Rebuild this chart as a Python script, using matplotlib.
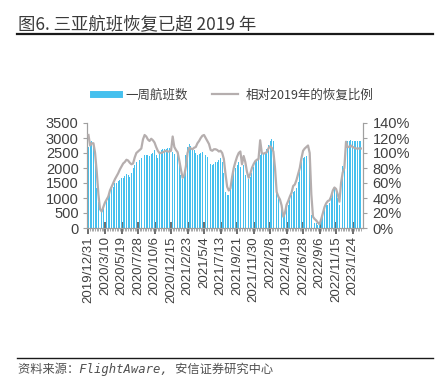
import matplotlib
matplotlib.use("Agg")
import matplotlib.pyplot as plt
from matplotlib.lines import Line2D
import numpy as np

# ---------------- data ----------------
flights = [
    2700, 2880, 2900, 2800, 2100, 1350, 880, 600, 580, 770,
    860, 990, 1100, 1210, 1300, 1380, 1490, 1490, 1570, 1600,
    1660, 1680, 1730, 1790, 1770, 1710, 1820, 1990, 2100, 2210,
    2240, 2270, 2320, 2380, 2430, 2430, 2430, 2410, 2460, 2490,
    2600, 2430, 2340, 2540, 2600, 2620, 2650, 2650, 2680, 2680,
    2650, 2540, 2480, 2450, 2450, 2100, 1770, 1650, 1880, 2430,
    2710, 2790, 2740, 2650, 2600, 2490, 2430, 2460, 2490, 2520,
    2540, 2430, 2380, 2320, 2120, 2100, 2120, 2210, 2190, 2270,
    2320, 2210, 1820, 1210, 1100, 1100, 1380, 1650, 1880, 1990,
    2100, 2210, 2040, 1990, 2100, 1770, 1650, 1650, 1710, 1820,
    2040, 2210, 2270, 2320, 2430, 2540, 2490, 2540, 2650, 2770,
    2900, 2970, 2900, 2540, 1160, 990, 880, 660, 380, 430,
    660, 770, 930, 1100, 1190, 1230, 1320, 1540, 1880, 2210,
    2320, 2380, 2410, 2430, 2380, 430, 210, 160, 160, 100,
    160, 300, 450, 600, 760, 780, 820, 990, 1270, 1330,
    1210, 990, 760, 1890, 2060, 2180, 2690, 2910, 2890, 2930,
    2910, 2890, 2890, 2890, 2890, 2890,
]

recovery_pct = [
    124, 110, 113, 113, 100, 75, 45, 25, 22, 28,
    34, 38, 42, 50, 55, 60, 65, 69, 73, 78,
    82, 86, 88, 91, 90, 87, 85, 86, 94, 100,
    102, 104, 106, 118, 124, 122, 118, 116, 119, 117,
    114, 108, 103, 100, 100, 101, 102, 103, 102, 102,
    103, 122, 108, 104, 101, 90, 78, 67, 70, 82,
    100, 107, 106, 105, 107, 108, 113, 116, 120, 123,
    124, 120, 116, 112, 104, 103, 105, 105, 104, 102,
    103, 100, 92, 72, 55, 50, 53, 68, 80, 88,
    95, 100, 102, 85, 96, 88, 75, 67, 72, 80,
    85, 89, 91, 92, 117, 100, 99, 100, 101, 106,
    109, 107, 102, 80, 48, 42, 38, 30, 15, 20,
    31, 36, 42, 47, 56, 58, 64, 72, 80, 93,
    103, 106, 108, 110, 100, 45, 15, 12, 10, 7,
    5, 12, 20, 28, 33, 36, 37, 42, 50, 54,
    52, 45, 35, 60, 74, 80, 115, 108, 108, 110,
    108, 107, 106, 106, 106, 106,
]

tick_labels = [
    "2019/12/31", "2020/3/10", "2020/5/19", "2020/7/28", "2020/10/6",
    "2020/12/15", "2021/2/23", "2021/5/4", "2021/7/13", "2021/9/21",
    "2021/11/30", "2022/2/8", "2022/4/19", "2022/6/28", "2022/9/6",
    "2022/11/15", "2023/1/24",
]
label_step = 10  # one label every 10 weeks

title = "图6. 三亚航班恢复已超 2019 年"
source = "资料来源：FlightAware, 安信证券研究中心"
series_names = ["一周航班数", "相对2019年的恢复比例"]

# ---------------- style ----------------
CJK = ["Noto Sans CJK SC", "DejaVu Sans"]
NUM = ["Liberation Sans", "DejaVu Sans"]
plt.rcParams["font.family"] = CJK

BAR_C = "#45C0EE"
LINE_C = "#B5AEAE"
TXT_C = "#404040"
AX_C = "#A0A0A0"

W, H = 438, 384
fig = plt.figure(figsize=(W / 100, H / 100), dpi=100)

left, right, bottom, top = 87, 363, 228, 123
ax = fig.add_axes([left / W, 1 - bottom / H, (right - left) / W, (bottom - top) / H])
ax2 = ax.twinx()

x = np.arange(len(flights))
ax.bar(x, flights, width=0.55, color=BAR_C, linewidth=0, zorder=2)
ax2.plot(x, np.array(recovery_pct) / 100.0, color=LINE_C, lw=1.6, zorder=3)

ax.set_xlim(-0.9, len(flights) + 0.3)
ax.set_ylim(0, 3500)
ax.set_yticks(np.arange(0, 3501, 500))
ax2.set_ylim(0, 1.4)
ax2.set_yticks(np.arange(0, 1.41, 0.2))
ax2.set_yticklabels([f"{int(round(v*100))}%" for v in np.arange(0, 1.41, 0.2)])

major = np.arange(0, len(tick_labels) * label_step, label_step)
ax.set_xticks(major)
ax.set_xticklabels(tick_labels, rotation=90, family=NUM, fontsize=9.5, color=TXT_C)
ax.set_xticks(x, minor=True)

for a in (ax, ax2):
    a.spines["top"].set_visible(False)
    for s in ("left", "right", "bottom"):
        a.spines[s].set_color(AX_C)
        a.spines[s].set_linewidth(0.8)

ax.tick_params(axis="x", which="major", direction="inout", length=8, width=1.2,
               color="#555555", pad=2)
ax.tick_params(axis="x", which="minor", direction="out", length=2.5, width=0.6,
               color="#9A9A9A")
ax.tick_params(axis="y", direction="out", length=3, width=0.8, color=AX_C, pad=3)
ax2.tick_params(axis="y", direction="out", length=3, width=0.8, color=AX_C, pad=4)
for lab in ax.get_yticklabels() + ax2.get_yticklabels():
    lab.set_family(NUM)
    lab.set_fontsize(10.5)
    lab.set_color(TXT_C)

# legend
handles = [Line2D([], [], color=BAR_C, lw=5),
           Line2D([], [], color=LINE_C, lw=1.6)]
leg = fig.legend(handles, series_names, loc="center", bbox_to_anchor=(233 / W, 1 - 95 / H),
                 ncol=2, frameon=False, fontsize=9, handlelength=2.1,
                 handletextpad=0.55, columnspacing=1.9)
for t in leg.get_texts():
    t.set_color(TXT_C)

# title and rules
fig.text(18 / W, 1 - 24 / H, title, fontsize=12.5, color="#3A3A3A", va="center", ha="left")
fig.add_artist(Line2D([17 / W, 433 / W], [1 - 33.5 / H] * 2, color="#1A1A1A", lw=1.6))
fig.add_artist(Line2D([17 / W, 433 / W], [1 - 357.5 / H] * 2, color="#1A1A1A", lw=1.0))
fig.text(18 / W, 1 - 369 / H, source, fontsize=8.8, color="#505050", va="center",
         ha="left", style="italic", family=["DejaVu Sans Mono", "Noto Sans CJK SC"])

fig.savefig("out.png", dpi=100)
